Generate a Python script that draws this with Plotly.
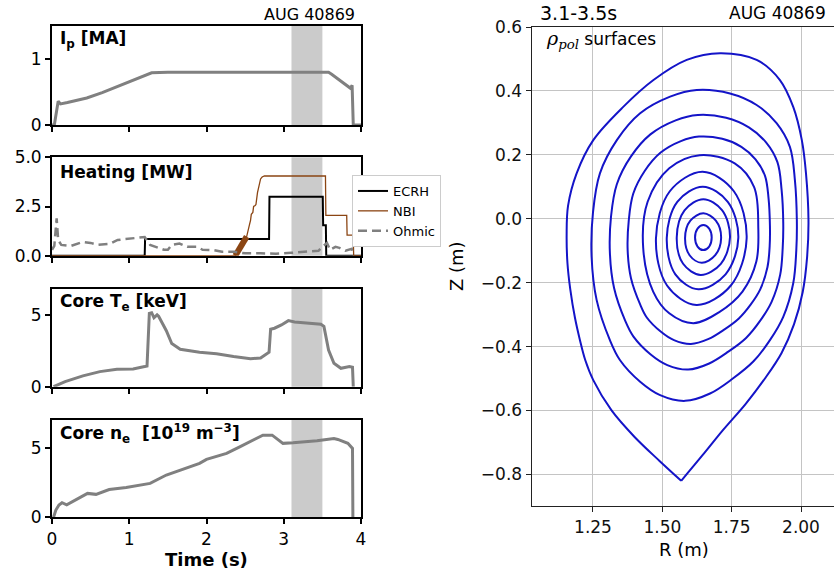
import plotly.graph_objects as go

W, H = 834, 576

# ---------------- time traces (left column) ----------------
ip_t = [0.0, 0.03, 0.08, 0.11, 0.2, 0.45, 0.65, 0.85, 1.05, 1.29, 1.5, 2.0, 2.5, 3.0, 3.3, 3.58, 3.62, 3.86, 3.885, 3.895, 3.9, 4.0]
ip_v = [0.0, 0.0, 0.36, 0.32, 0.34, 0.41, 0.49, 0.58, 0.67, 0.79, 0.80, 0.80, 0.80, 0.80, 0.80, 0.80, 0.77, 0.56, 0.60, 0.0, 0.0, 0.0]

ecrh_t = [0.0, 1.20, 1.205, 2.81, 2.815, 3.505, 3.51, 3.545, 3.55, 4.0]
ecrh_v = [0.0, 0.0, 0.85, 0.85, 3.0, 3.0, 1.55, 1.55, 0.0, 0.0]

nbi_t = [0.0, 2.373, 2.52, 2.53, 2.54, 2.555, 2.57, 2.58, 2.60, 2.61, 2.63, 2.64, 2.66, 2.68, 2.70, 2.72, 2.75, 3.54, 3.545, 3.815, 3.82, 3.90, 3.905, 4.0]
nbi_v = [0.0, 0.0, 0.97, 1.2, 1.25, 1.55, 1.8, 2.1, 2.2, 2.5, 2.55, 2.6, 3.2, 3.6, 3.9, 4.0, 4.05, 4.05, 2.05, 2.05, 1.05, 1.05, 0.0, 0.0]
nbi_band_t = [2.373, 2.52]
nbi_band_v = [0.0, 0.97]

ohm_t = [0.0, 0.03, 0.06, 0.08, 0.12, 0.25, 0.4, 0.5, 0.6, 0.75, 0.85, 1.0, 1.15, 1.2, 1.27, 1.35, 1.45, 1.5, 1.55, 1.65, 1.75, 1.88, 1.95, 2.1, 2.2, 2.36, 2.5, 2.7, 2.9, 3.1, 3.3, 3.45, 3.5, 3.56, 3.6, 3.67, 3.72, 3.8, 3.88, 3.9]
ohm_v = [0.3, 0.5, 1.9, 0.8, 0.55, 0.5, 0.7, 0.65, 0.55, 0.6, 0.8, 0.85, 0.9, 0.95, 0.55, 0.45, 0.3, 0.3, 0.55, 0.62, 0.45, 0.45, 0.3, 0.28, 0.2, 0.2, 0.12, 0.12, 0.1, 0.15, 0.2, 0.25, 0.45, 0.65, 0.3, 0.45, 0.4, 0.25, 0.35, 0.0]

te_t = [0.02, 0.17, 0.4, 0.62, 0.84, 1.05, 1.2, 1.23, 1.26, 1.29, 1.32, 1.36, 1.38, 1.44, 1.48, 1.55, 1.66, 1.91, 2.13, 2.35, 2.57, 2.70, 2.78, 2.81, 2.83, 2.88, 2.97, 3.06, 3.14, 3.31, 3.48, 3.52, 3.58, 3.65, 3.74, 3.85, 3.89, 3.90]
te_v = [0.0, 0.35, 0.75, 1.05, 1.21, 1.23, 1.40, 1.44, 5.1, 5.15, 4.8, 5.0, 4.9, 4.3, 3.9, 3.0, 2.6, 2.4, 2.3, 2.1, 1.95, 2.0, 2.3, 2.4, 4.0, 4.07, 4.3, 4.6, 4.5, 4.4, 4.35, 4.2, 2.55, 1.63, 1.28, 1.4, 1.35, 0.0]

ne_t = [0.02, 0.05, 0.09, 0.13, 0.19, 0.26, 0.37, 0.46, 0.57, 0.74, 0.96, 1.18, 1.27, 1.48, 1.74, 1.91, 2.0, 2.26, 2.43, 2.73, 2.85, 2.99, 3.12, 3.43, 3.65, 3.70, 3.83, 3.89, 3.895, 3.90]
ne_v = [0.0, 0.52, 0.88, 1.05, 0.9, 1.12, 1.48, 1.72, 1.65, 2.0, 2.15, 2.32, 2.44, 3.04, 3.52, 3.88, 4.17, 4.6, 5.07, 5.91, 5.91, 5.32, 5.36, 5.5, 5.67, 5.6, 5.32, 4.96, 0.0, 0.0]

window = [3.1, 3.5]
time_ticks = [0, 1, 2, 3, 4]

# ---------------- flux surfaces (right panel), innermost first ----------------
c1_R = [1.648, 1.669, 1.678, 1.669, 1.647, 1.627, 1.618, 1.627, 1.648]
c1_Z = [-0.020, -0.031, -0.059, -0.087, -0.098, -0.087, -0.059, -0.031, -0.020]
c2_R = [1.648, 1.693, 1.712, 1.690, 1.642, 1.599, 1.582, 1.601, 1.648]
c2_Z = [0.017, -0.006, -0.060, -0.115, -0.138, -0.115, -0.060, -0.006, 0.017]
c3_R = [1.648, 1.716, 1.744, 1.711, 1.638, 1.575, 1.552, 1.580, 1.648]
c3_Z = [0.061, 0.026, -0.058, -0.141, -0.176, -0.141, -0.058, 0.026, 0.061]
c4_R = [1.646, 1.736, 1.774, 1.728, 1.630, 1.547, 1.516, 1.554, 1.646]
c4_Z = [0.100, 0.053, -0.060, -0.174, -0.221, -0.174, -0.060, 0.053, 0.100]
c5_R = [1.645, 1.758, 1.804, 1.747, 1.623, 1.517, 1.477, 1.527, 1.645]
c5_Z = [0.147, 0.086, -0.062, -0.209, -0.270, -0.209, -0.062, 0.086, 0.147]
c6_R = [1.635, 1.761, 1.831, 1.846, 1.839, 1.789, 1.704, 1.612, 1.525, 1.467, 1.431, 1.447, 1.525, 1.635]
c6_Z = [0.199, 0.173, 0.099, -0.029, -0.134, -0.228, -0.293, -0.327, -0.296, -0.228, -0.091, 0.053, 0.158, 0.199]
c7_R = [1.632, 1.716, 1.785, 1.836, 1.870, 1.883, 1.888, 1.887, 1.879, 1.853, 1.819, 1.776, 1.723, 1.665, 1.603,
        1.542, 1.494, 1.444, 1.420, 1.387, 1.375, 1.379, 1.395, 1.437, 1.494, 1.567, 1.632]
c7_Z = [0.257, 0.250, 0.225, 0.186, 0.135, 0.064, -0.022, -0.086, -0.152, -0.221, -0.268, -0.312, -0.347, -0.377, -0.392,
        -0.380, -0.353, -0.309, -0.268, -0.186, -0.099, -0.005, 0.078, 0.150, 0.207, 0.243, 0.257]
c8_R = [1.628, 1.730, 1.812, 1.874, 1.915, 1.930, 1.936, 1.934, 1.925, 1.894, 1.853, 1.802, 1.738, 1.669, 1.593,
        1.518, 1.457, 1.396, 1.366, 1.326, 1.311, 1.315, 1.336, 1.387, 1.457, 1.548, 1.628]
c8_Z = [0.325, 0.316, 0.286, 0.239, 0.177, 0.091, -0.013, -0.092, -0.175, -0.260, -0.319, -0.373, -0.416, -0.453, -0.472,
        -0.458, -0.424, -0.369, -0.319, -0.217, -0.108, 0.007, 0.108, 0.195, 0.264, 0.308, 0.325]
c9_R = [1.624, 1.744, 1.840, 1.912, 1.960, 1.978, 1.985, 1.983, 1.972, 1.936, 1.888, 1.828, 1.753, 1.672, 1.582,
        1.492, 1.420, 1.347, 1.311, 1.263, 1.245, 1.250, 1.275, 1.336, 1.420, 1.528, 1.624]
c9_Z = [0.403, 0.392, 0.356, 0.299, 0.225, 0.121, -0.004, -0.100, -0.202, -0.307, -0.380, -0.447, -0.501, -0.547, -0.570,
        -0.552, -0.510, -0.442, -0.380, -0.254, -0.120, 0.020, 0.142, 0.246, 0.330, 0.382, 0.403]
sep_R = [1.568, 1.490, 1.400, 1.317, 1.251, 1.222, 1.203, 1.185, 1.168, 1.158, 1.155, 1.160, 1.191, 1.251, 1.359,
         1.468, 1.588, 1.708, 1.840, 1.924, 1.972, 2.003, 2.018, 2.027, 2.022, 2.006, 1.975, 1.930, 1.870, 1.800,
         1.720, 1.645, 1.568]
sep_Z = [-0.820, -0.758, -0.683, -0.600, -0.505, -0.442, -0.380, -0.310, -0.220, -0.140, -0.050, 0.040, 0.142, 0.246, 0.350,
         0.434, 0.497, 0.518, 0.497, 0.434, 0.350, 0.246, 0.142, -0.004, -0.120, -0.230, -0.330, -0.420, -0.500, -0.580,
         -0.660, -0.740, -0.8201]

R_ticks = [1.25, 1.50, 1.75, 2.00]
Z_ticks = [-0.8, -0.6, -0.4, -0.2, 0.0, 0.2, 0.4, 0.6]

# ---------------- figure ----------------
GRAY = "#808080"
BLUE = "#1414c8"
FONT = "DejaVu Sans"

fig = go.Figure()

fig.add_trace(go.Scatter(x=ip_t, y=ip_v, mode="lines", line=dict(color=GRAY, width=3), xaxis="x", yaxis="y", showlegend=False))

fig.add_trace(go.Scatter(x=ecrh_t, y=ecrh_v, mode="lines", name="ECRH", line=dict(color="black", width=2), xaxis="x2", yaxis="y2"))
fig.add_trace(go.Scatter(x=nbi_t, y=nbi_v, mode="lines", name="NBI", line=dict(color="#8B4513", width=1.3), xaxis="x2", yaxis="y2"))
fig.add_trace(go.Scatter(x=nbi_band_t, y=nbi_band_v, mode="lines", line=dict(color="#8B4513", width=6), xaxis="x2", yaxis="y2", showlegend=False))
fig.add_trace(go.Scatter(x=ohm_t, y=ohm_v, mode="lines", name="Ohmic", line=dict(color=GRAY, width=2.5, dash="9px,5px"), xaxis="x2", yaxis="y2"))

fig.add_trace(go.Scatter(x=te_t, y=te_v, mode="lines", line=dict(color=GRAY, width=3), xaxis="x3", yaxis="y3", showlegend=False))
fig.add_trace(go.Scatter(x=ne_t, y=ne_v, mode="lines", line=dict(color=GRAY, width=3), xaxis="x4", yaxis="y4", showlegend=False))

for rr, zz in [(c1_R, c1_Z), (c2_R, c2_Z), (c3_R, c3_Z), (c4_R, c4_Z), (c5_R, c5_Z),
               (c6_R, c6_Z), (c7_R, c7_Z), (c8_R, c8_Z), (c9_R, c9_Z), (sep_R, sep_Z)]:
    fig.add_trace(go.Scatter(x=rr, y=zz, mode="lines", line=dict(color=BLUE, width=2, shape="spline", smoothing=1),
                             xaxis="x5", yaxis="y5", showlegend=False, hoverinfo="skip"))

rows = [(26, 125), (157.3, 255.7), (289, 386.7), (420, 517.3)]
yranges = [[0, 1.5], [0, 5.0], [0, 6.8], [0, 7.0]]
yticks = [[0, 1], [0, 2.5, 5.0], [0, 5], [0, 5]]
yfmt = ["d", ".1f", "d", "d"]
xdom = [52 / W, 361 / W]

axcommon = dict(showline=True, linecolor="black", linewidth=1.8, mirror=True, ticks="outside",
                ticklen=5, tickwidth=1.5, tickcolor="black", showgrid=False, zeroline=False, automargin=False,
                tickfont=dict(family=FONT, size=17, color="black"))

layout = dict(template="none", width=W, height=H, margin=dict(l=0, r=0, t=0, b=0, pad=0, autoexpand=False),
              autosize=False, paper_bgcolor="white", plot_bgcolor="white",
              font=dict(family=FONT, color="black"))

for i in range(4):
    sfx = "" if i == 0 else str(i + 1)
    top, bot = rows[i]
    layout["xaxis" + sfx] = dict(domain=xdom, range=[0, 4], anchor="y" + sfx, tickvals=time_ticks,
                                 showticklabels=(i == 3), **axcommon)
    layout["yaxis" + sfx] = dict(domain=[1 - bot / H, 1 - top / H], range=yranges[i], anchor="x" + sfx,
                                 tickvals=yticks[i], tickformat=yfmt[i], **axcommon)

rcommon = dict(showline=True, linecolor="#222222", linewidth=1.3, ticks="outside", ticklen=5, tickwidth=1.2,
               tickcolor="#222222", showgrid=True, gridcolor="#c4c4c4", gridwidth=1, zeroline=False,
               automargin=False, tickfont=dict(family=FONT, size=17, color="#111111"))
layout["xaxis5"] = dict(domain=[531.7 / W, 1.0], range=[1.029, 2.119], anchor="y5", tickvals=R_ticks,
                        tickformat=".2f", mirror=True, **rcommon)
layout["yaxis5"] = dict(domain=[1 - 506 / H, 1 - 27 / H], range=[-0.899, 0.6], anchor="x5", tickvals=Z_ticks,
                        tickformat=".1f", mirror=False, **rcommon)

layout["legend"] = dict(x=352 / W, y=1 - 175 / H, xanchor="left", yanchor="top", bgcolor="white",
                        bordercolor="#cccccc", borderwidth=1, font=dict(family=FONT, size=13, color="black"),
                        tracegroupgap=0, itemwidth=30)

fig.update_layout(**layout)

# shaded analysis window in every time panel
for sfx in ["", "2", "3", "4"]:
    fig.add_shape(type="rect", xref="x" + sfx, yref="y" + sfx + " domain", x0=window[0], x1=window[1],
                  y0=0, y1=1, fillcolor="#cbcbcb", line=dict(width=0), layer="below")


def ann(text, x, y, xanchor="left", yanchor="middle", size=16, **kw):
    fig.add_annotation(text=text, x=x / W, y=1 - y / H, xref="paper", yref="paper", xanchor=xanchor,
                       yanchor=yanchor, showarrow=False, font=dict(family=FONT, size=size, color="black"), **kw)


ann("<b>I<sub>p</sub> [MA]</b>", 58, 40, size=17)
ann("<b>Heating [MW]</b>", 58, 172, size=17)
ann("<b>Core T<sub>e</sub> [keV]</b>", 58, 302, size=17)
ann("<b>Core n<sub>e</sub>  [10<sup>19</sup> m<sup>−3</sup>]</b>", 58, 433, size=17)
ann("AUG 40869", 357, 15, xanchor="right", size=16)
ann("<b>Time (s)</b>", 206.5, 559, xanchor="center", size=18)

ann("3.1-3.5s", 538, 13, size=19)
ann("AUG 40869", 828, 13, xanchor="right", size=17)
ann("<span style=\"font-family:DejaVu Serif;font-style:italic;font-size:19px\">ρ<sub>pol</sub></span> surfaces", 544, 40, size=17)
ann("Z (m)", 456, 266, xanchor="center", size=18, textangle=-90)
ann("R (m)", 684, 549, xanchor="center", size=18)

fig.write_html("out.html")
